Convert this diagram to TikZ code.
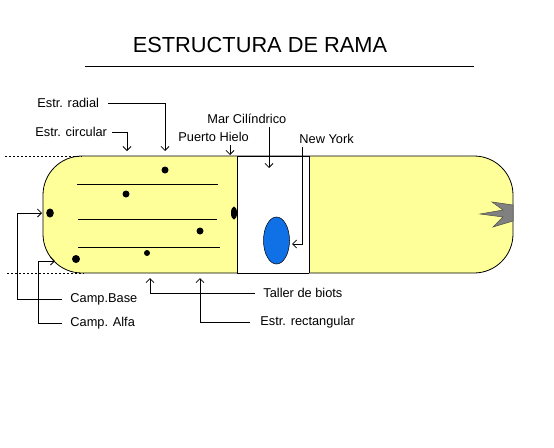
\documentclass[tikz,border=0pt]{standalone}
\usepackage{fontspec}
\setmainfont{Liberation Sans}
\usetikzlibrary{arrows.meta}
\definecolor{cellyellow}{RGB}{255,255,153}
\definecolor{lakeblue}{RGB}{16,112,230}
\definecolor{spikegray}{RGB}{128,128,128}

\begin{document}
\begin{tikzpicture}[x=1pt,y=-1pt,line width=0.8pt,
		lbl/.style={font=\fontsize{12.8}{14}\selectfont,inner sep=0pt,anchor=west},
		ptr/.style={-{Straight Barb[length=4pt,width=8pt]}},
		dot/.style={fill=black}]
		\useasboundingbox (0,0) rectangle (554,447);

		% Title
		\node[font=\fontsize{21.8}{24}\selectfont,inner sep=0pt] (title) at (260,45) {ESTRUCTURA DE RAMA};
		\draw (85,66) -- (474,66);

		% Branch body
		\draw[fill=cellyellow,rounded corners=39] (43,156) rectangle (513,273);
		\fill[white] (237,156) rectangle (309,273);
		\draw (237,156) -- (309,156) (237,273) -- (309,273);
		\draw (237,156) -- (237,273) (309,156) -- (309,273);
		\draw[dash pattern=on 2pt off 2pt] (5,156) -- (82,156);
		\draw[dash pattern=on 2pt off 2pt] (7,273) -- (84,273);

		% Rings and dots
		\draw (77,184) -- (218,184);
		\draw (78,219) -- (217,219);
		\draw (78,247) -- (220,247);
		\fill[dot] (165,170) circle (3.5);
		\fill[dot] (126,194) circle (3.5);
		\fill[dot] (50,213) ellipse (3.8 and 4.5);
		\fill[dot] (200,231) circle (3.5);
		\fill[dot] (147,253) circle (3);
		\fill[dot] (76,259) circle (4);
		\fill[dot] (234,213) ellipse (3 and 6.5);

		% New York and spikes
		\draw[fill=lakeblue,line width=0.5pt] (276.5,240.5) ellipse (13 and 23.5);
		\draw[fill=spikegray,draw=black!70,line width=0.5pt]
			(513,205) -- (492,202) -- (503,210) -- (480,214) -- (503,217) -- (493,227) -- (513,221) -- cycle;

		% Labels
		\node[lbl] (radial) at (37,103) {Estr. radial};
		\node[lbl] (circular) at (35,132) {Estr. circular};
		\node[lbl] (puerto) at (178,137) {Puerto Hielo};
		\node[lbl] (mar) at (207,119) {Mar Cilíndrico};
		\node[lbl] (newyork) at (299,139) {New York};
		\node[lbl] (campbase) at (70,299) {Camp.Base};
		\node[lbl] (campalfa) at (70,323) {Camp. Alfa};
		\node[lbl] (taller) at (263,293) {Taller de biots};
		\node[lbl] (rectang) at (260,322) {Estr. rectangular};

		\coordinate (radialtip) at (165,151);
		\coordinate (circulartip) at (127,151);
		\coordinate (puertotip) at (230,155);
		\coordinate (martip) at (269,168);
		\coordinate (nytip) at (292,244);
		\coordinate (basetip) at (42,213);
		\coordinate (alfatip) at (55,261);
		\coordinate (tallertip) at (150,278);
		\coordinate (recttip) at (200,278);

		% Pointers
		\draw[ptr] ([xshift=9pt]radial.east) -| (radialtip);
		\draw[ptr] ([xshift=5pt]circular.east) -| (circulartip);
		\draw[ptr] ([yshift=-3pt]puerto.south -| puertotip) -- (puertotip);
		\draw[ptr] ([yshift=-3pt]mar.south -| martip) -- (martip);
		\draw[ptr] ([xshift=3pt,yshift=-3pt]newyork.south west) |- (nytip);
		\draw[ptr] ([xshift=-8pt]campbase.west) -- ++(-45,0) |- (basetip);
		\draw[ptr] ([xshift=-8pt]campalfa.west) -- ++(-24,0) |- (alfatip);
		\draw[ptr] ([xshift=-8pt]taller.west) -| (tallertip);
		\draw[ptr] ([xshift=-10pt]rectang.west) -| (recttip);
	\end{tikzpicture}
\end{document}
